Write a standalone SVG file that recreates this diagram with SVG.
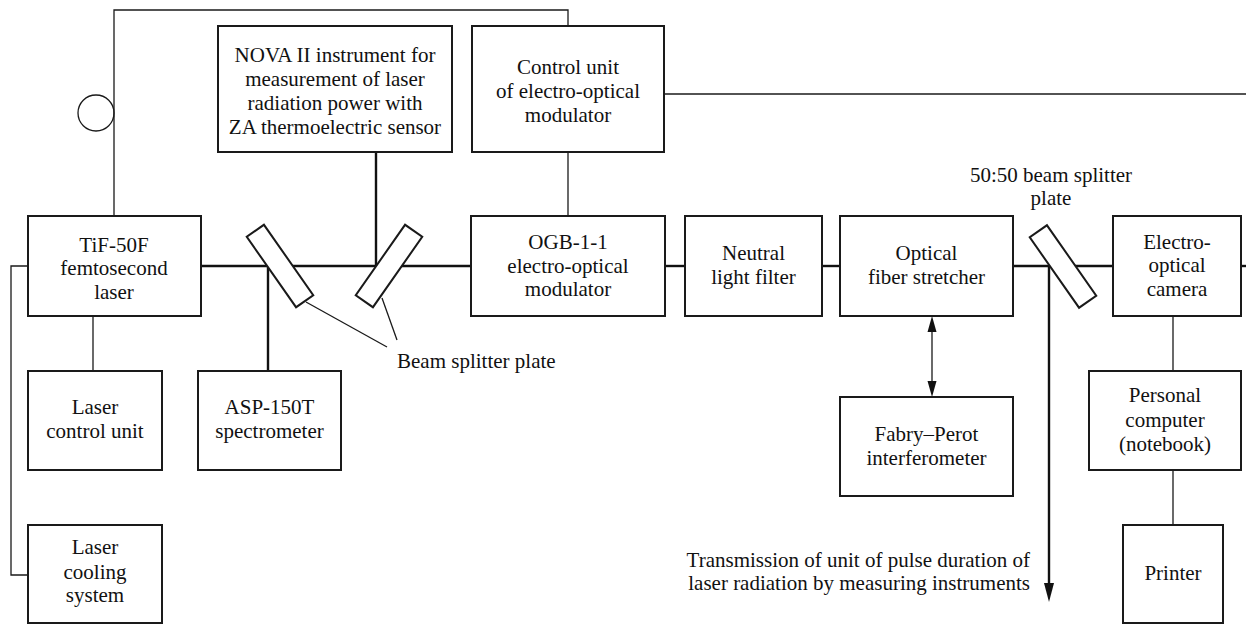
<svg xmlns="http://www.w3.org/2000/svg" width="1246" height="625" viewBox="0 0 1246 625">
<style>
  .box { fill: #fff; stroke: #1a1a1a; stroke-width: 2; }
  .plate { fill: #fff; stroke: #1a1a1a; stroke-width: 2; }
  .thin { fill: none; stroke: #1a1a1a; stroke-width: 1.3; }
  .beam { fill: none; stroke: #111; stroke-width: 2.4; }
  text { font-family: "Liberation Serif", "Times New Roman", serif; font-size: 21px; fill: #111; text-anchor: middle; }
</style>
<defs>
  <marker id="ahThin" markerUnits="userSpaceOnUse" markerWidth="10" markerHeight="16" refX="5" refY="16" orient="auto-start-reverse" viewBox="0 0 10 16">
    <path d="M0,0 L5,16 L10,0 Z" fill="#111" transform="rotate(0)"/>
  </marker>
</defs>

<g id="connectors">
  <!-- control wires -->
  <polyline class="thin" points="114,216 114,10 568,10 568,26"/>
  <circle class="thin" cx="96" cy="113" r="18"/>
  <polyline class="thin" points="28,266 11,266 11,575 28,575"/>
  <line class="thin" x1="93" y1="316" x2="93" y2="371"/>
  <line class="thin" x1="568" y1="152" x2="568" y2="216"/>
  <line class="thin" x1="664" y1="94" x2="1246" y2="94"/>
  <line class="thin" x1="1173" y1="316" x2="1173" y2="371"/>
  <line class="thin" x1="1173" y1="470" x2="1173" y2="525"/>
  <!-- double arrow stretcher <-> Fabry-Perot -->
  <line class="thin" x1="932" y1="330" x2="932" y2="383"/>
  <path d="M932,316 L927.5,332 L936.5,332 Z" fill="#111"/>
  <path d="M932,397 L927.5,381 L936.5,381 Z" fill="#111"/>
  <!-- leader lines -->
  <line class="thin" x1="306" y1="302" x2="387" y2="347"/>
  <line class="thin" x1="382" y1="298" x2="397" y2="340"/>
  <!-- beam lines -->
  <line class="beam" x1="201" y1="266" x2="471" y2="266"/>
  <line class="beam" x1="665" y1="266" x2="685" y2="266"/>
  <line class="beam" x1="822" y1="266" x2="840" y2="266"/>
  <line class="beam" x1="1013" y1="266" x2="1113" y2="266"/>
  <line class="beam" x1="1241" y1="266" x2="1246" y2="266"/>
  <line class="beam" x1="268" y1="266" x2="268" y2="371"/>
  <line class="beam" x1="376" y1="152" x2="376" y2="266"/>
  <line class="beam" x1="1049" y1="266" x2="1049" y2="586"/>
  <path d="M1049,602 L1044,583 L1054,583 Z" fill="#111"/>
</g>

<g id="plates">
  <rect class="plate" x="-43" y="-10.5" width="86" height="21" transform="translate(280,266) rotate(55)"/>
  <rect class="plate" x="-43" y="-10.5" width="86" height="21" transform="translate(389,266) rotate(-55)"/>
  <rect class="plate" x="-43" y="-10.5" width="86" height="21" transform="translate(1063,266.5) rotate(55)"/>
</g>

<g id="nova">
  <rect class="box" x="218" y="26" width="234" height="126"/>
  <text x="335" y="62">NOVA II instrument for</text>
  <text x="335" y="86">measurement of laser</text>
  <text x="335" y="110">radiation power with</text>
  <text x="335" y="134">ZA thermoelectric sensor</text>
</g>

<g id="control-unit">
  <rect class="box" x="472" y="26" width="192" height="126"/>
  <text x="568" y="74">Control unit</text>
  <text x="568" y="98">of electro-optical</text>
  <text x="568" y="122">modulator</text>
</g>

<g id="laser">
  <rect class="box" x="28" y="216" width="173" height="100"/>
  <text x="114" y="252">TiF-50F</text>
  <text x="114" y="275">femtosecond</text>
  <text x="114" y="299">laser</text>
</g>

<g id="ogb">
  <rect class="box" x="471" y="216" width="194" height="100"/>
  <text x="568" y="249">OGB-1-1</text>
  <text x="568" y="273">electro-optical</text>
  <text x="568" y="296">modulator</text>
</g>

<g id="neutral-filter">
  <rect class="box" x="685" y="216" width="137" height="100"/>
  <text x="753.5" y="260">Neutral</text>
  <text x="753.5" y="284">light filter</text>
</g>

<g id="stretcher">
  <rect class="box" x="840" y="216" width="173" height="100"/>
  <text x="926.5" y="260">Optical</text>
  <text x="926.5" y="284">fiber stretcher</text>
</g>

<g id="camera">
  <rect class="box" x="1113" y="216" width="128" height="100"/>
  <text x="1177" y="249">Electro-</text>
  <text x="1177" y="272">optical</text>
  <text x="1177" y="296">camera</text>
</g>

<g id="laser-control">
  <rect class="box" x="28" y="371" width="134" height="99"/>
  <text x="95" y="414">Laser</text>
  <text x="95" y="438">control unit</text>
</g>

<g id="spectrometer">
  <rect class="box" x="198" y="371" width="143" height="99"/>
  <text x="269.5" y="414">ASP-150T</text>
  <text x="269.5" y="438">spectrometer</text>
</g>

<g id="fabry-perot">
  <rect class="box" x="840" y="397" width="173" height="99"/>
  <text x="926.5" y="441">Fabry–Perot</text>
  <text x="926.5" y="465">interferometer</text>
</g>

<g id="pc">
  <rect class="box" x="1089" y="371" width="152" height="99"/>
  <text x="1165" y="402">Personal</text>
  <text x="1165" y="427">computer</text>
  <text x="1165" y="451">(notebook)</text>
</g>

<g id="cooling">
  <rect class="box" x="28" y="525" width="134" height="98"/>
  <text x="95" y="554">Laser</text>
  <text x="95" y="579">cooling</text>
  <text x="95" y="602">system</text>
</g>

<g id="printer">
  <rect class="box" x="1123" y="525" width="100" height="98"/>
  <text x="1173" y="580">Printer</text>
</g>

<g id="labels">
  <text x="1051" y="182">50:50 beam splitter</text>
  <text x="1051" y="205">plate</text>
  <text x="397" y="368" style="text-anchor:start">Beam splitter plate</text>
  <text x="1030" y="567" style="text-anchor:end">Transmission of unit of pulse duration of</text>
  <text x="1030" y="590" style="text-anchor:end">laser radiation by measuring instruments</text>
</g>
</svg>
